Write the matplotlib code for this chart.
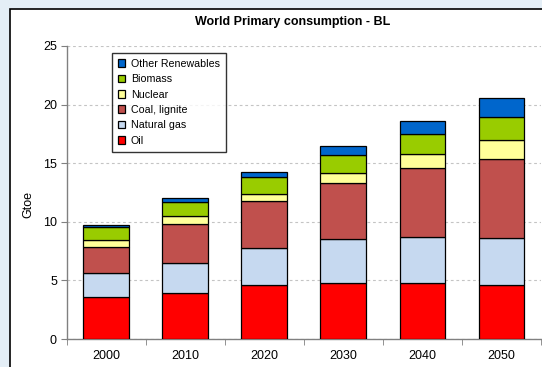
import numpy as np
import matplotlib.pyplot as plt
from matplotlib.patches import Rectangle

years = ['2000', '2010', '2020', '2030', '2040', '2050']
oil = [3.55, 3.95, 4.6, 4.8, 4.8, 4.6]
natural_gas = [2.1, 2.5, 3.2, 3.7, 3.9, 4.0]
coal = [2.2, 3.4, 4.0, 4.8, 5.9, 6.75]
nuclear = [0.6, 0.65, 0.6, 0.9, 1.15, 1.6]
biomass = [1.1, 1.2, 1.4, 1.5, 1.75, 2.0]
other_ren = [0.2, 0.3, 0.45, 0.75, 1.1, 1.6]

series = [
    ('Oil', oil, '#ff0000'),
    ('Natural gas', natural_gas, '#c6d9f0'),
    ('Coal, lignite', coal, '#c0504d'),
    ('Nuclear', nuclear, '#ffff99'),
    ('Biomass', biomass, '#99cc00'),
    ('Other Renewables', other_ren, '#0066cc'),
]

plt.rcParams['font.family'] = ['Liberation Sans', 'DejaVu Sans']

fig = plt.figure(figsize=(5.42, 3.67), dpi=100)
fig.patch.set_facecolor('#e4eef6')

# white chart frame
fig.patches.append(Rectangle((10 / 542, -0.1), 1.2, 1 - 9 / 367 + 0.1,
                             transform=fig.transFigure, facecolor='white',
                             edgecolor='black', linewidth=1.2, zorder=-10))

ax = fig.add_axes([66.7 / 542, 1 - 339 / 367, (541 - 66.7) / 542, (339 - 46) / 367])
ax.set_facecolor('white')
ax.set_zorder(2)

x = np.arange(len(years))
bottom = np.zeros(len(years))
handles = []
for name, vals, col in series:
    b = ax.bar(x, vals, width=0.58, bottom=bottom, color=col,
               edgecolor='black', linewidth=0.9, label=name, zorder=3)
    handles.append(b)
    bottom += np.array(vals)

ax.set_xlim(-0.5, len(years) - 0.5)
ax.set_ylim(0, 25)
ax.set_yticks([0, 5, 10, 15, 20, 25])
ax.set_xticks(x)
ax.set_xticklabels(years)
ax.set_xticks(np.arange(-0.5, len(years)), minor=True)
ax.tick_params(axis='x', which='major', length=0, pad=8, labelsize=9)
ax.tick_params(axis='x', which='minor', length=4, color='#808080', direction='out')
ax.tick_params(axis='y', length=4, color='#808080', labelsize=9, pad=3)

ax.grid(axis='y', linestyle=(0, (2.5, 2.5)), color='#c4c4c4', linewidth=0.8, zorder=0)
for s in ['top', 'right']:
    ax.spines[s].set_visible(False)
for s in ['left', 'bottom']:
    ax.spines[s].set_color('#808080')
    ax.spines[s].set_linewidth(1)

fig.text(28 / 542, 1 - 205 / 367, 'Gtoe', rotation=90, fontsize=9,
         ha='center', va='center')
fig.text(293 / 542, 1 - 22 / 367, 'World Primary consumption - BL',
         fontsize=9, fontweight='bold', ha='center', va='center')

leg = ax.legend(handles[::-1], [s[0] for s in series][::-1],
                loc='upper left', bbox_to_anchor=((112 - 66.7) / (541 - 66.7), 1 - 7 / 293),
                fontsize=7.7, frameon=True, fancybox=False, handlelength=0.7,
                handleheight=0.7, handletextpad=0.5, labelspacing=0.5,
                borderpad=0.55, borderaxespad=0)
leg.get_frame().set_edgecolor('black')
leg.get_frame().set_linewidth(1)

fig.savefig('out.png', dpi=100, facecolor=fig.get_facecolor())
